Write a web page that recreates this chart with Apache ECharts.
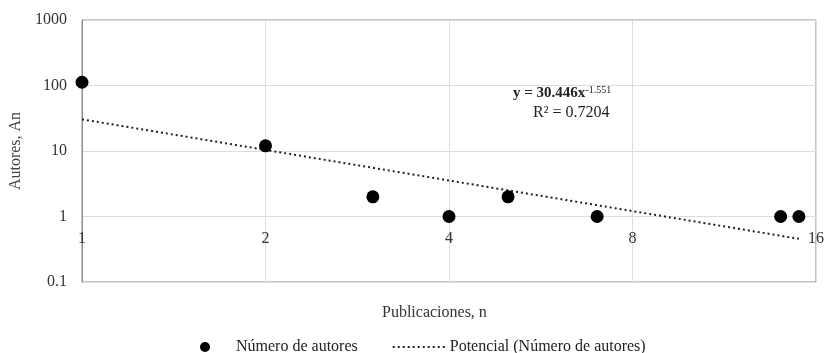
<!DOCTYPE html>
<html>
<head>
<meta charset="utf-8">
<script src="https://cdn.jsdelivr.net/npm/echarts@6/dist/echarts.min.js"></script>
<style>html,body{margin:0;padding:0;background:#fff}#c{width:825px;height:353px}</style>
</head>
<body>
<div id="c"></div>
<script>
// Data
const publicaciones = [1, 2, 3, 4, 5, 7, 14, 15];
const autores = [112, 12, 2, 1, 2, 1, 1, 1];
const trendX = [1, 15];
const trendY = [30.446, 0.456];
const xTicks = [1, 2, 4, 8, 16];
const yTicks = [0.1, 1, 10, 100, 1000];
const seriesNames = ['Número de autores', 'Potencial (Número de autores)'];
const equationText = 'y = 30.446x';
const equationExp = '-1.551';
const r2Text = 'R² = 0.7204';
const xAxisTitle = 'Publicaciones, n';
const yAxisTitle = 'Autores, An';

const FONT = '"Liberation Serif", "DejaVu Serif", serif';
const chart = echarts.init(document.getElementById('c'), null, {renderer: 'canvas'});
const scatterData = publicaciones.map((x, i) => [x, autores[i]]);
const trendData = trendX.map((x, i) => [x, trendY[i]]);

chart.setOption({
  animation: false,
  backgroundColor: '#fff',
  textStyle: {fontFamily: FONT},
  grid: {left: 82, right: 9, top: 20, bottom: 71, show: true, borderColor: '#8c8c8c', borderWidth: 1, outerBoundsMode: 'none', containLabel: false},
  xAxis: {
    type: 'log', logBase: 2, min: 1, max: 16,
    offset: -64,
    axisLine: {show: false},
    axisTick: {show: false},
    axisLabel: {
      color: '#333', fontSize: 16, fontFamily: FONT, margin: 13,
      formatter: v => xTicks.includes(Math.round(v)) ? String(Math.round(v)) : ''
    },
    splitLine: {show: true, lineStyle: {color: '#dcdcdc', width: 1}}
  },
  yAxis: {
    type: 'log', logBase: 10, min: 0.1, max: 1000,
    name: yAxisTitle, nameLocation: 'middle', nameGap: 58, nameRotate: 90,
    nameTextStyle: {color: '#444', fontSize: 16, fontFamily: FONT},
    axisLine: {show: true, lineStyle: {color: '#8c8c8c'}},
    axisTick: {show: false},
    axisLabel: {
      color: '#333', fontSize: 16, fontFamily: FONT, margin: 15,
      formatter: v => { const t = yTicks.find(k => Math.abs(k - v) / k < 1e-6); return t === undefined ? '' : String(t); }
    },
    splitLine: {show: true, lineStyle: {color: '#dcdcdc', width: 1}}
  },
  legend: {
    top: 334, left: 195,
    itemWidth: 52, itemHeight: 10, itemGap: 34,
    textStyle: {color: '#222', fontSize: 16, fontFamily: FONT},
    data: [
      {name: seriesNames[0]},
      {name: seriesNames[1], itemStyle: {opacity: 0}}
    ]
  },
  graphic: [
    {type: 'text', left: 382, top: 305, style: {text: xAxisTitle, fill: '#333', font: '16px ' + FONT}},
    {type: 'text', left: 513, top: 85, style: {
      rich: {b: {fontSize: 15, fontFamily: FONT, fill: '#222', fontWeight: 'bold'}, s: {fontSize: 10, fontFamily: FONT, fill: '#222', verticalAlign: 'top', padding: [0,0,7,0]}},
      text: '{b|' + equationText + '}{s|' + equationExp + '}'
    }},
    {type: 'text', left: 533, top: 105, style: {text: r2Text, fill: '#222', font: '16px ' + FONT}}
  ],
  series: [
    {
      name: seriesNames[0], type: 'scatter', data: scatterData,
      symbol: 'circle', symbolSize: 13, itemStyle: {color: '#000', opacity: 1}, z: 3
    },
    {
      name: seriesNames[1], type: 'line', data: trendData, showSymbol: false, symbol: 'none',
      lineStyle: {color: '#222', width: 2, type: [2, 3]}, itemStyle: {color: '#222'}, z: 2
    }
  ]
});
</script>
</body>
</html>
